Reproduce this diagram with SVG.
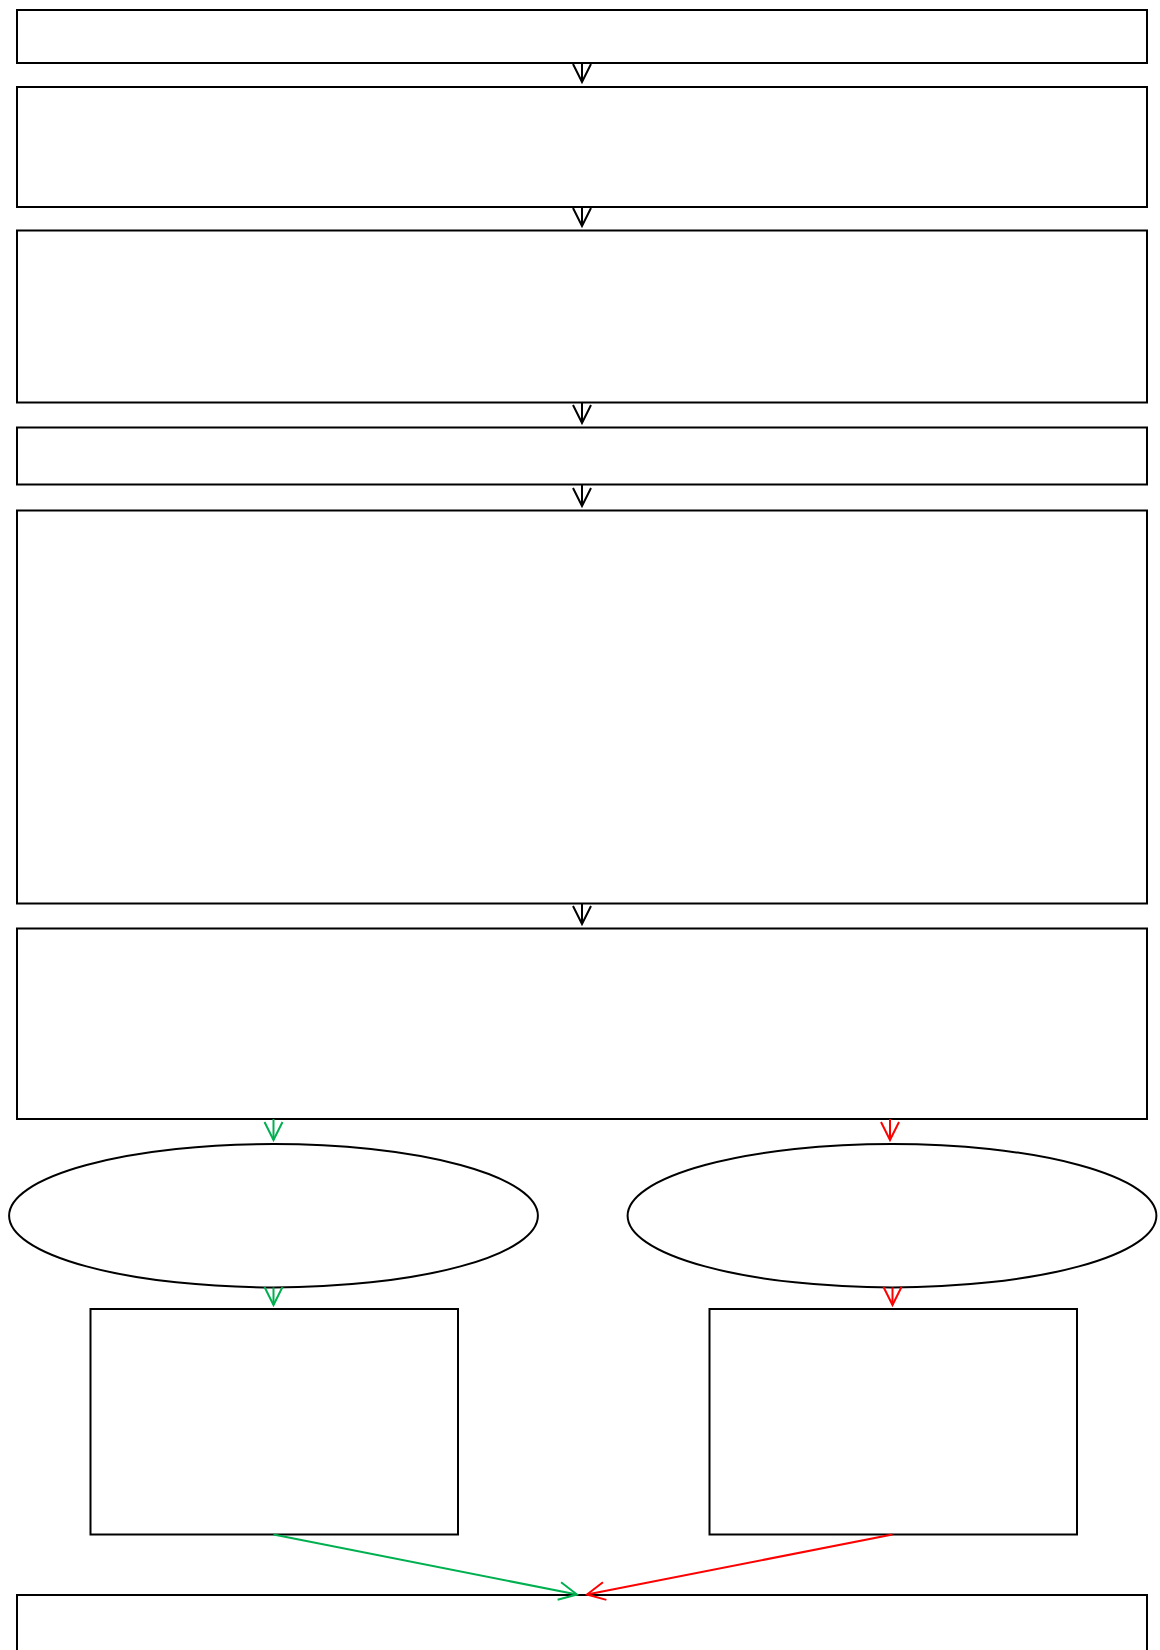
<svg xmlns="http://www.w3.org/2000/svg" width="1160" height="1650" viewBox="0 0 1160 1650">
<defs>
<style>
.n{fill:#ffffff;stroke:#000000;stroke-width:2}
.e{fill:none;stroke-width:2}
.k{stroke:#000000}
.g{stroke:#00b050}
.r{stroke:#ff0000}
</style>
<marker id="ak" markerUnits="userSpaceOnUse" markerWidth="24" markerHeight="24" viewBox="-20 -12 24 24" refX="0" refY="0" orient="auto"><path d="M-18,-9 L0,0 L-18,9" fill="none" stroke="#000000" stroke-width="2"/></marker>
<marker id="ag" markerUnits="userSpaceOnUse" markerWidth="24" markerHeight="24" viewBox="-20 -12 24 24" refX="0" refY="0" orient="auto"><path d="M-18,-9 L0,0 L-18,9" fill="none" stroke="#00b050" stroke-width="2"/></marker>
<marker id="ar" markerUnits="userSpaceOnUse" markerWidth="24" markerHeight="24" viewBox="-20 -12 24 24" refX="0" refY="0" orient="auto"><path d="M-18,-9 L0,0 L-18,9" fill="none" stroke="#ff0000" stroke-width="2"/></marker>
</defs>
<rect width="1160" height="1650" fill="#ffffff"/>
<g id="n1"><rect class="n" x="17" y="10" width="1130" height="53"/></g>
<g id="n2"><rect class="n" x="17" y="87" width="1130" height="120"/></g>
<g id="n3"><rect class="n" x="17" y="230.5" width="1130" height="172"/></g>
<g id="n4"><rect class="n" x="17" y="427.5" width="1130" height="57"/></g>
<g id="n5"><rect class="n" x="17" y="510.5" width="1130" height="393"/></g>
<g id="n6"><rect class="n" x="17" y="928.5" width="1130" height="190.5"/></g>
<g id="n7"><ellipse class="n" cx="273.5" cy="1215.7" rx="264.4" ry="71.7"/></g>
<g id="n8"><ellipse class="n" cx="892" cy="1215.7" rx="264.4" ry="71.7"/></g>
<g id="n9"><rect class="n" x="90.5" y="1309" width="367.5" height="225.5"/></g>
<g id="n10"><rect class="n" x="709.5" y="1309" width="367.5" height="225.5"/></g>
<g id="n11"><rect class="n" x="17" y="1595" width="1130" height="100"/></g>
<g id="connectors">
<line class="e k" x1="582" y1="63" x2="582" y2="82" marker-end="url(#ak)"/>
<line class="e k" x1="582" y1="207" x2="582" y2="226" marker-end="url(#ak)"/>
<line class="e k" x1="582" y1="402.5" x2="582" y2="423" marker-end="url(#ak)"/>
<line class="e k" x1="582" y1="484.5" x2="582" y2="506" marker-end="url(#ak)"/>
<line class="e k" x1="582" y1="903.5" x2="582" y2="924" marker-end="url(#ak)"/>
<line class="e g" x1="273.5" y1="1119" x2="273.5" y2="1140" marker-end="url(#ag)"/>
<line class="e r" x1="890" y1="1119" x2="890" y2="1140" marker-end="url(#ar)"/>
<line class="e g" x1="273.5" y1="1287.4" x2="273.5" y2="1305" marker-end="url(#ag)"/>
<line class="e r" x1="892.5" y1="1287.4" x2="892.5" y2="1305" marker-end="url(#ar)"/>
<line class="e g" x1="273.5" y1="1534.5" x2="577" y2="1594.5" marker-end="url(#ag)"/>
<line class="e r" x1="892.5" y1="1534.5" x2="587" y2="1594.5" marker-end="url(#ar)"/>
</g>
</svg>
